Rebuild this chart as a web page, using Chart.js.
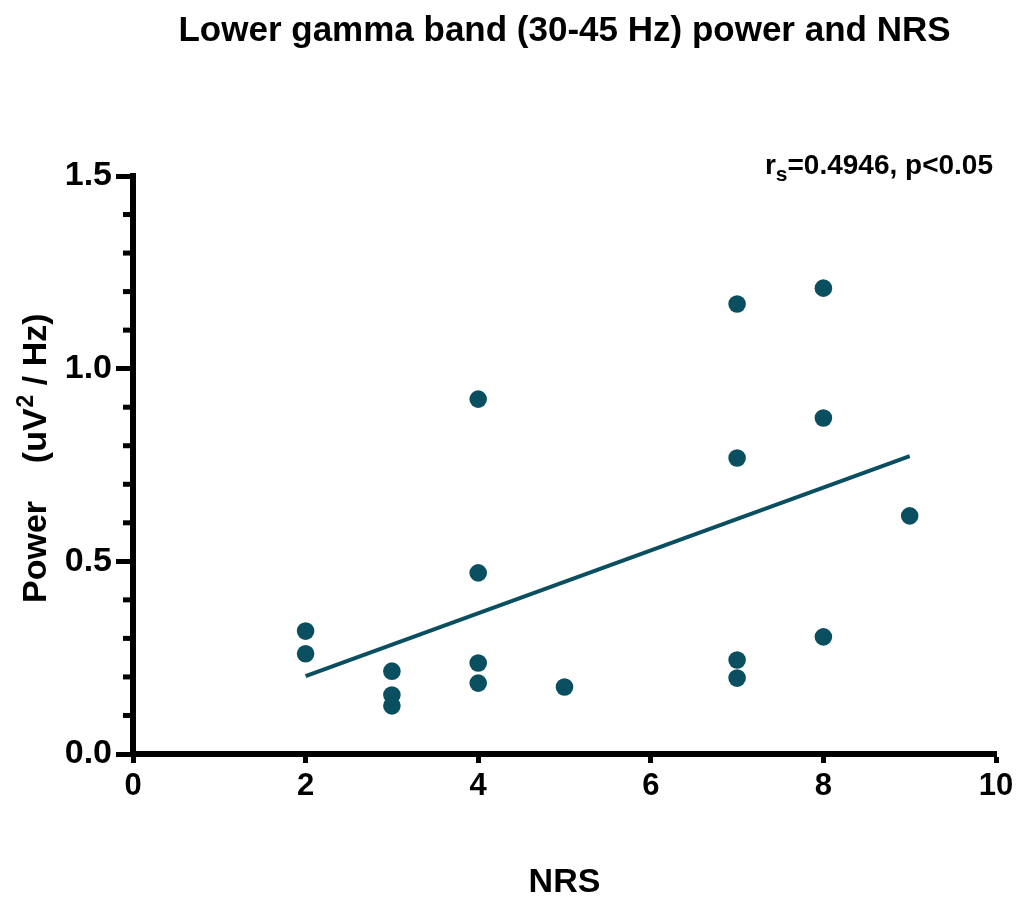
<!DOCTYPE html>
<html lang="en">
<head>
    <meta charset="UTF-8">
    <title>Lower gamma band power and NRS</title>
    <script src="https://cdn.jsdelivr.net/npm/chart.js"></script>
    <style>
        body {
            margin: 0;
            background: #ffffff;
            font-family: 'Liberation Sans', Arial, sans-serif;
        }

        .chart-box {
            width: 1021px;
            height: 900px;
            position: relative;
        }
    </style>
</head>
<body>
    <div class="chart-box">
        <canvas id="gammaChart"></canvas>
    </div>

    <script>
        // Data
        const nrsValues = [2, 2, 3, 3, 3, 4, 4, 4, 4, 5, 7, 7, 7, 7, 8, 8, 8, 9];
        const powerValues = [0.319, 0.260, 0.215, 0.153, 0.125, 0.921, 0.470, 0.236, 0.184, 0.174,
                             1.168, 0.768, 0.244, 0.197, 1.209, 0.872, 0.304, 0.618];

        // Fitted line ends
        const fitX = [2, 9];
        const fitY = [0.202, 0.773];

        const xTicks = [0, 2, 4, 6, 8, 10];
        const yTicks = [0, 0.5, 1.0, 1.5];
        const yMinorStep = 0.1;

        const chartTitle = 'Lower gamma band (30-45 Hz) power and NRS';
        const xTitle = 'NRS';
        const yTitleParts = ['Power    (uV', '2', ' / Hz)'];
        const statR = 'r';
        const statSub = 's';
        const statRest = '=0.4946, p<0.05';

        const dotColor = '#0a4f5f';
        const fontName = "'Liberation Sans', Arial, sans-serif";

        // Title, y title, stat label and minor ticks
        const extrasPlugin = {
            id: 'extras',
            afterDraw(chart) {
                const ctx = chart.ctx;
                const area = chart.chartArea;
                const y = chart.scales.y;

                ctx.save();
                ctx.fillStyle = '#000';
                ctx.textBaseline = 'alphabetic';

                // main title
                ctx.font = 'bold 35px ' + fontName;
                ctx.textAlign = 'center';
                ctx.fillText(chartTitle, (area.left + area.right) / 2, 41);

                // y axis title with superscript
                ctx.save();
                ctx.translate(46, 603);
                ctx.rotate(-Math.PI / 2);
                ctx.textAlign = 'left';
                const yBig = 'bold 34px ' + fontName;
                const ySmall = 'bold 23px ' + fontName;
                ctx.font = yBig;
                ctx.fillText(yTitleParts[0], 0, 0);
                let off = ctx.measureText(yTitleParts[0]).width;
                ctx.font = ySmall;
                ctx.fillText(yTitleParts[1], off + 1, -13);
                off += ctx.measureText(yTitleParts[1]).width + 1;
                ctx.font = yBig;
                ctx.fillText(yTitleParts[2], off, 0);
                ctx.restore();

                // stat label, right aligned
                const big = 'bold 28px ' + fontName;
                const small = 'bold 21px ' + fontName;
                ctx.textAlign = 'left';
                ctx.font = big;
                const wR = ctx.measureText(statR).width;
                const wRest = ctx.measureText(statRest).width;
                ctx.font = small;
                const wSub = ctx.measureText(statSub).width;
                let x0 = 993 - (wR + wSub + wRest);
                ctx.font = big;
                ctx.fillText(statR, x0, 174);
                ctx.font = small;
                ctx.fillText(statSub, x0 + wR, 181);
                ctx.font = big;
                ctx.fillText(statRest, x0 + wR + wSub, 174);

                // minor ticks on y axis
                ctx.strokeStyle = '#000';
                ctx.lineWidth = 5;
                for (let v = yMinorStep; v < 1.5; v += yMinorStep) {
                    const r = Math.round(v * 10) / 10;
                    if (Math.abs(r * 2 - Math.round(r * 2)) < 1e-6) continue;
                    const py = y.getPixelForValue(r);
                    ctx.beginPath();
                    ctx.moveTo(area.left - 10, py);
                    ctx.lineTo(area.left, py);
                    ctx.stroke();
                }
                ctx.restore();
            }
        };

        function createChart() {
            const points = nrsValues.map((v, i) => ({ x: v, y: powerValues[i] }));
            const fitLine = fitX.map((v, i) => ({ x: v, y: fitY[i] }));

            new Chart(document.getElementById('gammaChart'), {
                type: 'scatter',
                data: {
                    datasets: [
                        {
                            label: 'Fit',
                            type: 'line',
                            data: fitLine,
                            borderColor: dotColor,
                            borderWidth: 4,
                            pointRadius: 0,
                            fill: false
                        },
                        {
                            label: 'Subjects',
                            data: points,
                            backgroundColor: dotColor,
                            borderColor: dotColor,
                            borderWidth: 0,
                            pointRadius: 8.8,
                            pointHoverRadius: 8.8
                        }
                    ]
                },
                options: {
                    responsive: true,
                    maintainAspectRatio: false,
                    animation: false,
                    events: [],
                    layout: {
                        padding: { top: 176, right: 25, left: 0, bottom: 0 }
                    },
                    plugins: {
                        legend: { display: false },
                        tooltip: { enabled: false }
                    },
                    scales: {
                        x: {
                            type: 'linear',
                            min: 0,
                            max: 10,
                            afterFit(scale) { scale.height = 146; },
                            afterBuildTicks(scale) {
                                scale.ticks = xTicks.map(v => ({ value: v }));
                            },
                            ticks: {
                                color: '#000',
                                padding: 5,
                                maxRotation: 0,
                                font: { family: fontName, size: 31, weight: 'bold' }
                            },
                            grid: {
                                drawOnChartArea: false,
                                drawTicks: true,
                                tickLength: 9,
                                tickWidth: 5,
                                tickColor: '#000'
                            },
                            border: { display: true, color: '#000', width: 6 },
                            title: {
                                display: true,
                                text: xTitle,
                                color: '#000',
                                padding: { top: 0, bottom: 0 },
                                font: { family: fontName, size: 34, weight: 'bold', lineHeight: 1 }
                            }
                        },
                        y: {
                            type: 'linear',
                            min: 0,
                            max: 1.5,
                            afterFit(scale) { scale.width = 133; },
                            afterBuildTicks(scale) {
                                scale.ticks = yTicks.map(v => ({ value: v }));
                            },
                            ticks: {
                                color: '#000',
                                padding: 4,
                                font: { family: fontName, size: 34, weight: 'bold' },
                                callback: v => Number(v).toFixed(1)
                            },
                            grid: {
                                drawOnChartArea: false,
                                drawTicks: true,
                                tickLength: 17,
                                tickWidth: 5,
                                tickColor: '#000'
                            },
                            border: { display: true, color: '#000', width: 6 },
                            title: { display: false }
                        }
                    }
                },
                plugins: [extrasPlugin]
            });
        }

        document.addEventListener('DOMContentLoaded', createChart);
    </script>
</body>
</html>
